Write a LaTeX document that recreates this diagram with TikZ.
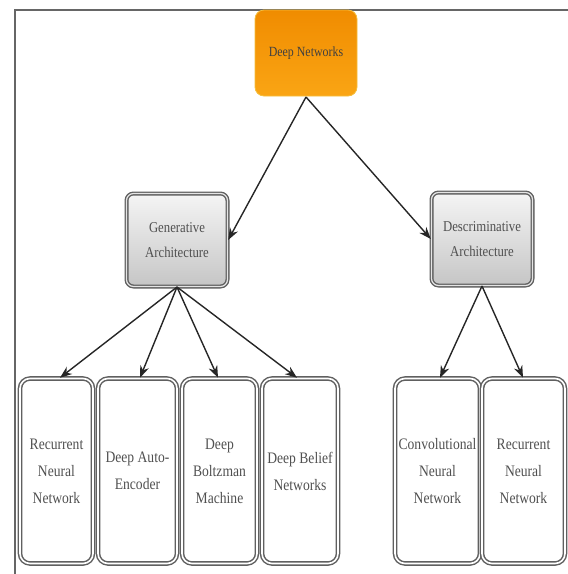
\documentclass[tikz,border=0pt]{standalone}
\usepackage{fontspec}
\setmainfont[FakeStretch=0.85]{Liberation Serif}
\usetikzlibrary{arrows.meta,shadings}
\definecolor{txtgray}{HTML}{505050}
\definecolor{boxline}{HTML}{606060}
\definecolor{orgtop}{RGB}{240,140,0}
\definecolor{orgbot}{RGB}{250,165,20}
\definecolor{orgline}{RGB}{245,190,60}
\begin{document}
\begin{tikzpicture}[x=1pt,y=1pt,
  top/.style={rectangle, rounded corners=9pt, minimum width=102pt, minimum height=86pt,
    top color=orgtop, bottom color=orgbot, draw=orgline, line width=0.8pt,
    font=\fontsize{14}{16}\selectfont, text=black!75, align=center},
  mid/.style={rectangle, rounded corners=7pt, minimum width=101pt, minimum height=93pt,
    top color=gray!8, bottom color=gray!45, draw=boxline, line width=1.4pt, double=gray!20, double distance=1.2pt,
    font=\fontsize{15}{25}\selectfont, text=txtgray, align=center, text width=92pt},
  leaf/.style={rectangle, rounded corners=10pt, minimum height=185pt,
    fill=white, draw=boxline, line width=1.5pt, double=white, double distance=1.6pt,
    font=\fontsize{16}{27}\selectfont, text=txtgray, align=center},
  arr/.style={-{Stealth[length=12pt,width=9pt]}, line width=1.4pt, draw=black!85}]
\useasboundingbox (0,0) rectangle (568,-574);
% frame
\draw[line width=2pt, draw=black!60] (15,-574) -- (15,-10) -- (568,-10);
% nodes
\node[top] (dn) at (306,-53) {Deep Networks};
\node[mid] (ga) at (177,-240) {Generative\\Architecture};
\node[mid] (da) at (482,-239) {Descriminative\\Architecture};
\node[leaf, minimum width=73pt] (l1) at (56.5,-471) {Recurrent\\Neural\\Network};
\node[leaf, minimum width=79pt] (l2) at (137.5,-471) {Deep Auto-\\Encoder};
\node[leaf, minimum width=75pt] (l3) at (219.5,-471) {Deep\\Boltzman\\Machine};
\node[leaf, minimum width=76pt] (l4) at (300,-471) {Deep Belief\\Networks};
\node[leaf, minimum width=85pt, inner sep=1pt] (l5) at (437.5,-471) {Convolutional\\Neural\\Network};
\node[leaf, minimum width=83pt] (l6) at (523.5,-471) {Recurrent\\Neural\\Network};
% arrows
\coordinate (dnb) at (306,-97);
\coordinate (gab) at (177,-287);
\coordinate (dab) at (482,-286);
\draw[arr] (dnb) -- (ga.east);
\draw[arr] (dnb) -- (da.west);
\draw[arr] (gab) -- (l1.north -| 60,0);
\draw[arr] (gab) -- (l2.north -| 140,0);
\draw[arr] (gab) -- (l3.north -| 218,0);
\draw[arr] (gab) -- (l4.north -| 297,0);
\draw[arr] (dab) -- (l5.north -| 440,0);
\draw[arr] (dab) -- (l6.north -| 523,0);
\end{tikzpicture}
\end{document}
